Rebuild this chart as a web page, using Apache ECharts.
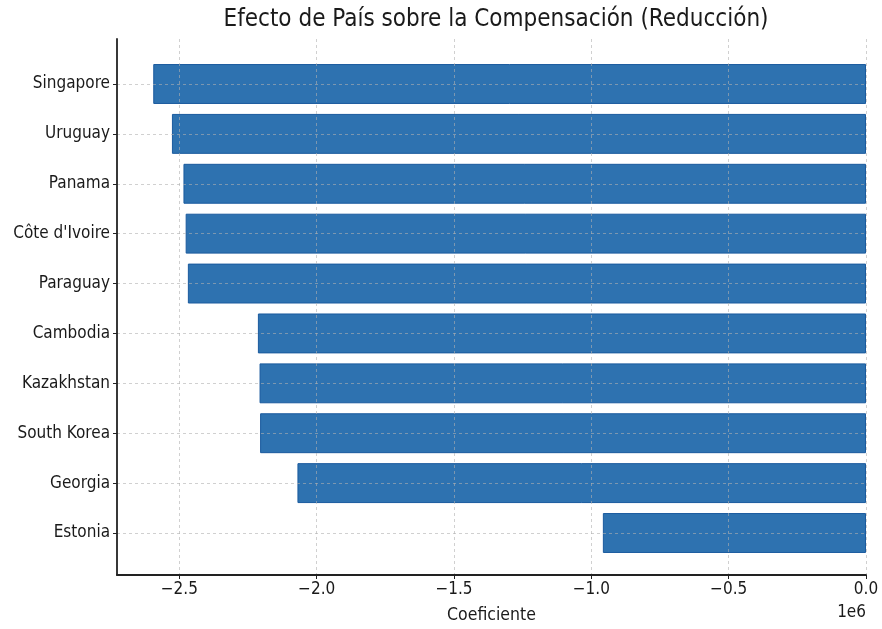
<!DOCTYPE html>
<html>
<head>
<meta charset="utf-8">
<script src="https://cdn.jsdelivr.net/npm/echarts@6/dist/echarts.min.js"></script>
<style>
html,body{margin:0;padding:0;background:#fff;}
#chart{width:882px;height:629px;}
</style>
</head>
<body>
<div id="chart"></div>
<script>
const countries = ["Singapore", "Uruguay", "Panama", "Côte d'Ivoire", "Paraguay", "Cambodia", "Kazakhstan", "South Korea", "Georgia", "Estonia"];
const coefficients = [-2595000, -2527000, -2485000, -2477000, -2469000, -2214000, -2208000, -2206000, -2070000, -958000];
const xTicks = [-2500000, -2000000, -1500000, -1000000, -500000, 0];
const xMin = -2727000;
const xMax = 0;
const titleText = "Efecto de País sobre la Compensación (Reducción)";
const xName = "Coeficiente";
const scaleLabel = "1e6";

const FONT = "'DejaVu Sans Condensed', 'DejaVu Sans', sans-serif";
const chart = echarts.init(document.getElementById('chart'), null, {renderer: 'canvas'});

const gridLeft = 117, gridRight = 16;
const fmt = v => (v / 1e6).toFixed(1).replace('-', '\u2212');
const gridLine = {show: true, lineStyle: {color: 'rgba(176,176,176,0.6)', type: [3, 3], width: 1}};

chart.setOption({
  animation: false,
  backgroundColor: '#fff',
  title: {
    text: titleText,
    left: 491, textAlign: 'center', top: 3,
    textStyle: {fontFamily: FONT, fontSize: 24, fontWeight: 'normal', color: '#1a1a1a'}
  },
  graphic: [{
    type: 'text', right: 16, top: 604,
    style: {text: scaleLabel, fontFamily: FONT, fontSize: 17, fill: '#1a1a1a'}
  }],
  grid: [
    {left: gridLeft, right: gridRight, top: 39, bottom: 52, containLabel: false},
    {left: gridLeft, right: gridRight, top: 84, bottom: 96, containLabel: false}
  ],
  xAxis: [
    {
      type: 'value', gridIndex: 0, min: xMin, max: xMax, z: 3,
      axisLine: {show: true, onZero: false, lineStyle: {color: '#222', width: 1.8}},
      axisTick: {show: true, length: 4, customValues: xTicks, lineStyle: {color: '#222'}},
      axisLabel: {customValues: xTicks, formatter: fmt, fontFamily: FONT, fontSize: 17, color: '#1a1a1a', margin: 6},
      splitLine: gridLine,
      name: xName, nameLocation: 'middle', nameGap: 31,
      nameTextStyle: {fontFamily: FONT, fontSize: 17.5, color: '#1a1a1a'}
    },
    {
      type: 'value', gridIndex: 1, min: xMin, max: xMax, show: false,
      splitLine: {show: false}
    }
  ],
  yAxis: [
    {
      type: 'value', gridIndex: 0, min: 0, max: 1, z: 3,
      axisLine: {show: true, onZero: false, lineStyle: {color: '#222', width: 1.8}},
      axisTick: {show: false}, axisLabel: {show: false}, splitLine: {show: false}
    },
    {
      type: 'category', gridIndex: 1, data: countries, inverse: true, boundaryGap: false, z: 3,
      axisLine: {show: false, onZero: false},
      axisTick: {show: true, length: 4, lineStyle: {color: '#222'}},
      axisLabel: {fontFamily: FONT, fontSize: 17, color: '#1a1a1a', margin: 7},
      splitLine: gridLine
    }
  ],
  series: [{
    type: 'bar', xAxisIndex: 1, yAxisIndex: 1,
    data: coefficients, barWidth: '80%', clip: false,
    itemStyle: {color: '#2e72b0', borderColor: '#1a5a9e', borderWidth: 1}
  }]
});
</script>
</body>
</html>
